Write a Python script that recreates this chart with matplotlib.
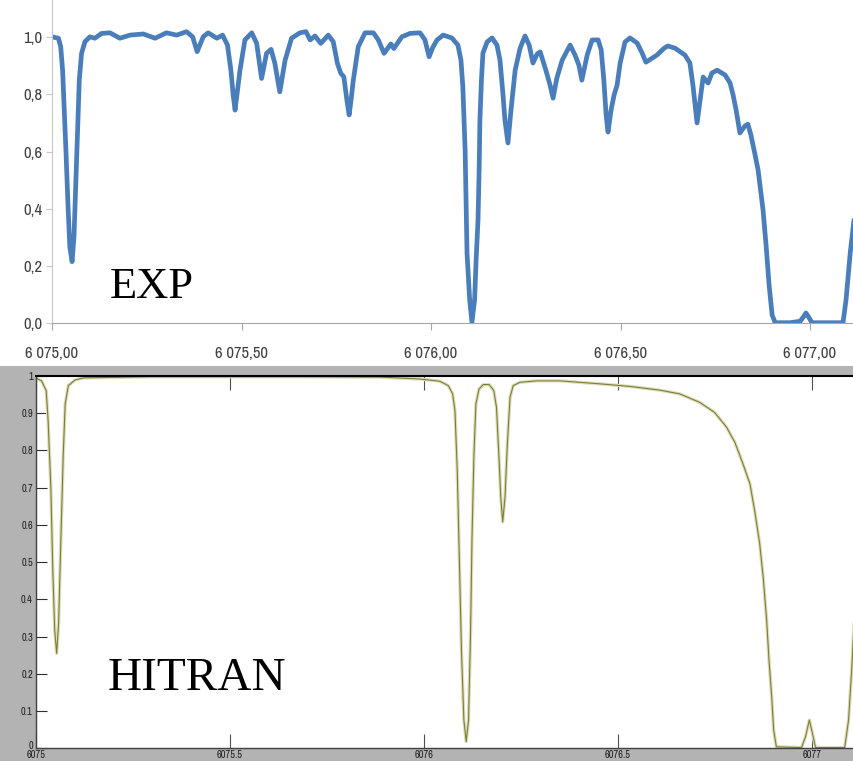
import numpy as np
import matplotlib
matplotlib.use('Agg')
import matplotlib.pyplot as plt
from matplotlib import font_manager
from matplotlib.font_manager import FontProperties
from matplotlib.patches import Rectangle
from matplotlib.ticker import FuncFormatter
from matplotlib.transforms import ScaledTranslation

# measured transmission (upper panel)
exp_wn = [6075.000, 6075.017, 6075.023, 6075.028, 6075.032, 6075.037, 6075.042, 6075.047, 6075.053, 6075.058,
          6075.063, 6075.068, 6075.072, 6075.078, 6075.087, 6075.100, 6075.113, 6075.131, 6075.153, 6075.179,
          6075.206, 6075.241, 6075.272, 6075.302, 6075.329, 6075.355, 6075.371, 6075.383, 6075.399, 6075.412,
          6075.435, 6075.450, 6075.463, 6075.472, 6075.478, 6075.483, 6075.488, 6075.496, 6075.509, 6075.527,
          6075.540, 6075.553, 6075.566, 6075.578, 6075.588, 6075.601, 6075.615, 6075.632, 6075.654, 6075.670,
          6075.681, 6075.694, 6075.709, 6075.729, 6075.742, 6075.753, 6075.762, 6075.770, 6075.778, 6075.784,
          6075.789, 6075.795, 6075.808, 6075.826, 6075.848, 6075.861, 6075.876, 6075.894, 6075.902, 6075.923,
          6075.945, 6075.971, 6075.984, 6075.995, 6076.005, 6076.016, 6076.032, 6076.055, 6076.071, 6076.079,
          6076.084, 6076.090, 6076.095, 6076.102, 6076.108, 6076.115, 6076.119, 6076.124, 6076.127, 6076.129,
          6076.133, 6076.137, 6076.148, 6076.161, 6076.174, 6076.182, 6076.190, 6076.195, 6076.203, 6076.211,
          6076.222, 6076.235, 6076.248, 6076.259, 6076.269, 6076.280, 6076.288, 6076.303, 6076.314, 6076.322,
          6076.332, 6076.346, 6076.367, 6076.380, 6076.390, 6076.398, 6076.412, 6076.425, 6076.441, 6076.449,
          6076.456, 6076.462, 6076.467, 6076.475, 6076.483, 6076.491, 6076.499, 6076.512, 6076.525, 6076.544,
          6076.557, 6076.567, 6076.583, 6076.596, 6076.615, 6076.625, 6076.644, 6076.670, 6076.683, 6076.691,
          6076.702, 6076.710, 6076.718, 6076.731, 6076.741, 6076.755, 6076.776, 6076.789, 6076.797, 6076.805,
          6076.815, 6076.828, 6076.836, 6076.844, 6076.855, 6076.863, 6076.868, 6076.876, 6076.884, 6076.892,
          6076.900, 6076.908, 6076.947, 6076.974, 6076.984, 6076.989, 6076.995, 6077.005, 6077.087, 6077.095,
          6077.106, 6077.116]
exp_tr = [1.002, 0.997, 0.967, 0.885, 0.757, 0.595, 0.419, 0.265, 0.214, 0.300,
          0.500, 0.710, 0.850, 0.944, 0.985, 1.002, 0.997, 1.014, 1.016, 0.997,
          1.008, 1.012, 0.997, 1.016, 1.008, 1.020, 1.002, 0.950, 1.002, 1.016,
          0.997, 1.008, 0.973, 0.885, 0.798, 0.745, 0.798, 0.885, 0.991, 1.016,
          0.979, 0.856, 0.944, 0.958, 0.909, 0.809, 0.920, 0.997, 1.016, 1.020,
          0.991, 1.005, 0.979, 1.008, 0.985, 0.909, 0.874, 0.862, 0.780, 0.728,
          0.780, 0.850, 0.967, 1.016, 1.016, 0.991, 0.944, 0.977, 0.961, 1.002,
          1.014, 1.016, 0.991, 0.932, 0.966, 0.991, 1.008, 0.998, 0.973, 0.920,
          0.826, 0.605, 0.244, 0.080, 0.002, 0.080, 0.220, 0.360, 0.535, 0.710,
          0.850, 0.945, 0.984, 0.998, 0.973, 0.920, 0.798, 0.710, 0.630, 0.745,
          0.885, 0.962, 1.005, 0.973, 0.910, 0.942, 0.949, 0.885, 0.833, 0.787,
          0.857, 0.920, 0.973, 0.938, 0.903, 0.850, 0.938, 0.991, 0.991, 0.956,
          0.850, 0.728, 0.668, 0.745, 0.798, 0.833, 0.910, 0.984, 0.998, 0.980,
          0.945, 0.913, 0.927, 0.938, 0.962, 0.970, 0.962, 0.938, 0.910, 0.833,
          0.700, 0.780, 0.861, 0.840, 0.875, 0.885, 0.868, 0.840, 0.798, 0.745,
          0.665, 0.689, 0.696, 0.658, 0.588, 0.535, 0.482, 0.395, 0.272, 0.132,
          0.027, 0.000, 0.000, 0.005, 0.023, 0.034, 0.023, 0.000, 0.000, 0.080,
          0.244, 0.360]

# simulated transmission (lower panel)
hitran_wn = [6075.000, 6075.015, 6075.027, 6075.032, 6075.039, 6075.044, 6075.049, 6075.054, 6075.059, 6075.065,
             6075.071, 6075.076, 6075.084, 6075.101, 6075.123, 6075.294, 6075.681, 6075.887, 6075.990, 6076.015,
             6076.041, 6076.063, 6076.074, 6076.080, 6076.086, 6076.091, 6076.097, 6076.103, 6076.109, 6076.115,
             6076.120, 6076.124, 6076.129, 6076.134, 6076.142, 6076.153, 6076.168, 6076.180, 6076.187, 6076.193,
             6076.198, 6076.203, 6076.209, 6076.215, 6076.222, 6076.230, 6076.247, 6076.290, 6076.350, 6076.453,
             6076.531, 6076.608, 6076.659, 6076.711, 6076.749, 6076.780, 6076.801, 6076.822, 6076.840, 6076.852,
             6076.865, 6076.874, 6076.883, 6076.889, 6076.896, 6076.901, 6076.908, 6076.973, 6076.983, 6076.993,
             6077.001, 6077.009, 6077.084, 6077.094, 6077.102, 6077.108]
hitran_tr = [0.995, 0.987, 0.961, 0.880, 0.701, 0.478, 0.317, 0.255, 0.335, 0.567,
             0.791, 0.925, 0.974, 0.989, 0.995, 0.998, 0.998, 0.997, 0.992, 0.989,
             0.986, 0.974, 0.952, 0.907, 0.746, 0.523, 0.255, 0.076, 0.018, 0.076,
             0.299, 0.567, 0.791, 0.925, 0.965, 0.977, 0.977, 0.961, 0.916, 0.791,
             0.675, 0.608, 0.675, 0.818, 0.943, 0.974, 0.983, 0.987, 0.987, 0.979,
             0.972, 0.962, 0.952, 0.929, 0.902, 0.862, 0.822, 0.764, 0.710, 0.639,
             0.550, 0.460, 0.344, 0.237, 0.138, 0.049, 0.004, 0.002, 0.031, 0.076,
             0.040, 0.002, 0.002, 0.076, 0.210, 0.335]

top_xticks = [6075.0, 6075.5, 6076.0, 6076.5, 6077.0]
top_yticks = [0.0, 0.2, 0.4, 0.6, 0.8, 1.0]
bottom_xticks = [6075.0, 6075.5, 6076.0, 6076.5, 6077.0]
bottom_yticks = [0.0, 0.1, 0.2, 0.3, 0.4, 0.5, 0.6, 0.7, 0.8, 0.9, 1.0]

W, H = 854, 761


def narrow_font(size):
    # pick a narrow sans face if one is installed
    fonts = font_manager.fontManager.ttflist
    for f in fonts:
        if 'Narrow' in f.name and f.style == 'normal':
            return FontProperties(family=f.name, size=size)
    for f in fonts:
        if str(f.stretch) in ('condensed', 'semi-condensed') and 'Sans' in f.name \
                and f.style == 'normal' and f.weight in (400, 'normal', 'regular'):
            return FontProperties(family=f.name, stretch=f.stretch, size=size)
    return FontProperties(family='Liberation Sans', size=size * 0.88)


fig = plt.figure(figsize=(W / 100, H / 100), dpi=100)

# grey window background behind the lower plot
fig.add_artist(Rectangle((0, 0), 1, (H - 366) / H, transform=fig.transFigure,
                         facecolor='#b3b3b3', edgecolor='none', zorder=-1))


def excel_num(v, pos):
    return f"{v:,.2f}".replace(',', ' ').replace('.', ',')


# --- upper panel: measured spectrum
ax1 = fig.add_axes([52 / W, 1 - 322.7 / H, (W - 52) / W, 322.7 / H])
ax1.plot(exp_wn, exp_tr, color='#4a7ebb', lw=3.4, solid_capstyle='round', solid_joinstyle='round')
ax1.set_xlim(6075.0, 6077.116)
ax1.set_ylim(0, 1.131)
ax1.set_xticks(top_xticks)
ax1.set_yticks(top_yticks)
ax1.xaxis.set_major_formatter(FuncFormatter(excel_num))
ax1.yaxis.set_major_formatter(FuncFormatter(lambda v, p: f"{v:.1f}".replace('.', ',')))
for s in ['top', 'right']:
    ax1.spines[s].set_visible(False)
ax1.spines['left'].set_color('#c8c8c8')
ax1.spines['bottom'].set_color('#a6a6a6')
ax1.tick_params(axis='x', direction='out', length=5, color='#a6a6a6', pad=12, labelcolor='#404040')
ax1.tick_params(axis='y', direction='out', length=4, color='#c8c8c8', pad=3, labelcolor='#404040')
fp_top = narrow_font(12)
for lbl in ax1.get_xticklabels() + ax1.get_yticklabels():
    lbl.set_fontproperties(fp_top)

# --- lower panel: simulated spectrum
ax2 = fig.add_axes([35.7 / W, 1 - 748.3 / H, (W - 35.7) / W, (748.3 - 376) / H])
ax2.plot(hitran_wn, hitran_tr, color='#dcdcc0', lw=2.4, solid_joinstyle='round')
ax2.plot(hitran_wn, hitran_tr, color='#7f7f30', lw=0.8, solid_joinstyle='round')
ax2.set_xlim(6075.0, 6077.108)
ax2.set_ylim(0, 1)
ax2.set_xticks(bottom_xticks)
ax2.set_yticks(bottom_yticks)
ax2.xaxis.set_major_formatter(FuncFormatter(lambda v, p: f"{v:g}"))
ax2.yaxis.set_major_formatter(FuncFormatter(lambda v, p: f"{v:g}"))
ax2.spines['right'].set_visible(False)
ax2.spines['top'].set_color('black')
ax2.spines['top'].set_linewidth(1.5)
for s in ['left', 'bottom']:
    ax2.spines[s].set_color('#404040')
    ax2.spines[s].set_linewidth(1.0)
ax2.tick_params(axis='x', direction='in', length=10, width=0.8, color='#505050', top=True,
                pad=1.5, labelcolor='#202020')
ax2.tick_params(axis='y', direction='in', length=8, width=0.8, color='#303030',
                pad=2, labelcolor='#202020')
fp_bot = narrow_font(7.5)
for lbl in ax2.get_xticklabels() + ax2.get_yticklabels():
    lbl.set_fontproperties(fp_bot)

# lift the "0" label a little so it clears the x labels in the corner
zero_lbl = ax2.yaxis.get_major_ticks()[0].label1
zero_lbl.set_transform(zero_lbl.get_transform() + ScaledTranslation(0, 3 / 100, fig.dpi_scale_trans))

fig.text(110 / W, 1 - 298 / H, 'EXP', fontsize=32, family='Liberation Serif', va='baseline', ha='left')
fig.text(108 / W, 1 - 690 / H, 'HITRAN', fontsize=34, family='Liberation Serif', va='baseline', ha='left')

fig.savefig('out.png', dpi=100)
